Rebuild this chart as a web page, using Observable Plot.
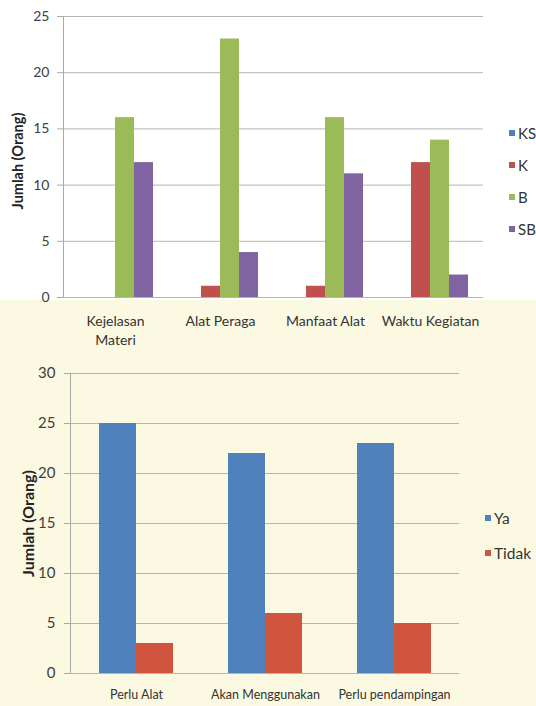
<!DOCTYPE html>
<html>
<head>
<meta charset="utf-8">
<script src="https://cdn.jsdelivr.net/npm/d3@7"></script>
<script src="https://cdn.jsdelivr.net/npm/@observablehq/plot@0.6"></script>
<style>
  html, body { margin: 0; padding: 0; background: #ffffff; }
  #wrap { position: relative; width: 536px; height: 706px; overflow: hidden; font-family: Lato, "Open Sans", sans-serif; }
  #cream { position: absolute; left: 0; top: 300px; width: 536px; height: 406px; background: #fcf9e2; }
  .layer { position: absolute; left: 0; }
  .layer svg { background: transparent !important; overflow: visible; }
  svg [aria-label^="y-axis"] line, svg [aria-label="y-axis tick"] { stroke: #a8a8a8; }
  .legend { position: absolute; font-family: Lato, sans-serif; color: #333; }
  .legend .item { position: absolute; display: flex; align-items: center; white-space: nowrap; }
  .legend .sw { width: 6px; height: 6px; margin-right: 3px; }
</style>
</head>
<body>
<div id="wrap"><div id="cream"></div></div>
<script>
// ---------- Chart 1 data ----------
const categories1 = ["Kejelasan Materi", "Alat Peraga", "Manfaat Alat", "Waktu Kegiatan"];
const labels1 = ["Kejelasan\nMateri", "Alat Peraga", "Manfaat Alat", "Waktu Kegiatan"];
const series1 = ["KS", "K", "B", "SB"];
const valuesKS = [0, 0, 0, 0];
const valuesK = [0, 1, 1, 12];
const valuesB = [16, 23, 16, 14];
const valuesSB = [12, 4, 11, 2];
const colors1 = ["#4f81bd", "#c0504d", "#9bbb59", "#8064a2"];
const yTicks1 = [0, 5, 10, 15, 20, 25];

// ---------- Chart 2 data ----------
const categories2 = ["Perlu Alat", "Akan Menggunakan", "Perlu pendampingan"];
const series2 = ["Ya", "Tidak"];
const valuesYa = [25, 22, 23];
const valuesTidak = [3, 6, 5];
const colors2 = ["#4f81bd", "#cf553e"];
const yTicks2 = [0, 5, 10, 15, 20, 25, 30];

const yLabel = "Jumlah (Orang)";

// build tables
const vals1 = [valuesKS, valuesK, valuesB, valuesSB];
const rows1 = [];
categories1.forEach((c, i) => series1.forEach((s, j) => rows1.push({category: c, label: labels1[i], series: s, value: vals1[j][i]})));
const vals2 = [valuesYa, valuesTidak];
const rows2 = [];
categories2.forEach((c, i) => series2.forEach((s, j) => rows2.push({category: c, label: c, series: s, value: vals2[j][i]})));

const wrap = document.getElementById("wrap");

function addLayer(node, top) {
  const d = document.createElement("div");
  d.className = "layer";
  d.style.top = top + "px";
  d.appendChild(node);
  wrap.appendChild(d);
}

function makeChart(cfg) {
  const common = {
    width: 536, height: cfg.height,
    marginLeft: cfg.ml, marginRight: cfg.mr, marginTop: cfg.mt, marginBottom: cfg.mb,
  };
  // background: grid, y axis, axis line, y title
  const bg = Plot.plot({
    ...common,
    style: {background: "transparent", color: "#404040", fontFamily: "Lato, sans-serif", fontSize: cfg.tickFont + "px"},
    x: {domain: [0, 1], axis: null},
    y: {domain: cfg.yDomain, ticks: cfg.yTicks, tickSize: 6, tickPadding: cfg.tickPad, label: null, tickFormat: d3.format("d")},
    marks: [
      Plot.ruleY(cfg.yTicks, {stroke: "#b4b4b4", strokeWidth: 1}),
      Plot.ruleX([0], {stroke: "#a8a8a8", strokeWidth: 1}),
      Plot.text([yLabel], {frameAnchor: "left", textAnchor: "middle", dx: cfg.titleDx, dy: cfg.titleDy, rotate: -90, text: d => d, fontWeight: "bold", fontSize: cfg.titleFont, fill: "#222"})
    ]
  });
  addLayer(bg, cfg.top);
  // foreground: faceted grouped bars + category labels
  const first = cfg.series[0];
  const fg = Plot.plot({
    ...common,
    style: {background: "transparent", fontFamily: "Lato, sans-serif"},
    facet: {data: cfg.rows, x: "category"},
    fx: {domain: cfg.categories, axis: null, paddingInner: cfg.pad, paddingOuter: cfg.pad / 2, label: null},
    x: {domain: cfg.series, axis: null, padding: 0},
    y: {domain: cfg.yDomain, axis: null},
    color: {domain: cfg.series, range: cfg.colors},
    marks: [
      Plot.barY(cfg.rows, {x: "series", y: "value", fill: "series", inset: 0}),
      Plot.text(cfg.rows, {filter: d => d.series === first, text: "label", frameAnchor: "bottom", lineAnchor: "top", dy: cfg.labelDy, fontSize: cfg.labelFont, lineHeight: cfg.lineHeight, fill: "#333"})
    ]
  });
  addLayer(fg, cfg.top);
  // legend
  const lg = document.createElement("div");
  lg.className = "legend";
  lg.style.left = cfg.legendX + "px";
  lg.style.top = (cfg.top) + "px";
  cfg.series.forEach((s, i) => {
    const it = document.createElement("div");
    it.className = "item";
    it.style.top = (cfg.legendY + i * cfg.legendStep - 10) + "px";
    it.style.height = "20px";
    it.style.fontSize = cfg.legendFont + "px";
    const sw = document.createElement("span");
    sw.className = "sw";
    sw.style.background = cfg.colors[i];
    const tx = document.createElement("span");
    tx.textContent = s;
    it.appendChild(sw); it.appendChild(tx);
    lg.appendChild(it);
  });
  wrap.appendChild(lg);
}

makeChart({
  top: 0, height: 352, ml: 63, mr: 53, mt: 16, mb: 55,
  yDomain: [0, 25], yTicks: yTicks1, tickPad: 8, tickFont: 14,
  titleDx: -45, titleDy: 4, titleFont: 14.5,
  rows: rows1, categories: categories1, series: series1, colors: colors1,
  pad: 0.257, labelDy: 15, labelFont: 14, lineHeight: 1.35,
  legendX: 509, legendY: 133, legendStep: 32, legendFont: 15
});

makeChart({
  top: 355, height: 351, ml: 70, mr: 77, mt: 18, mb: 33,
  yDomain: [0, 30], yTicks: yTicks2, tickPad: 9, tickFont: 15,
  titleDx: -42, titleDy: 0, titleFont: 16,
  rows: rows2, categories: categories2, series: series2, colors: colors2,
  pad: 0.43, labelDy: 14, labelFont: 12.5, lineHeight: 1.35,
  legendX: 485, legendY: 163, legendStep: 35, legendFont: 15.5
});
</script>
</body>
</html>
